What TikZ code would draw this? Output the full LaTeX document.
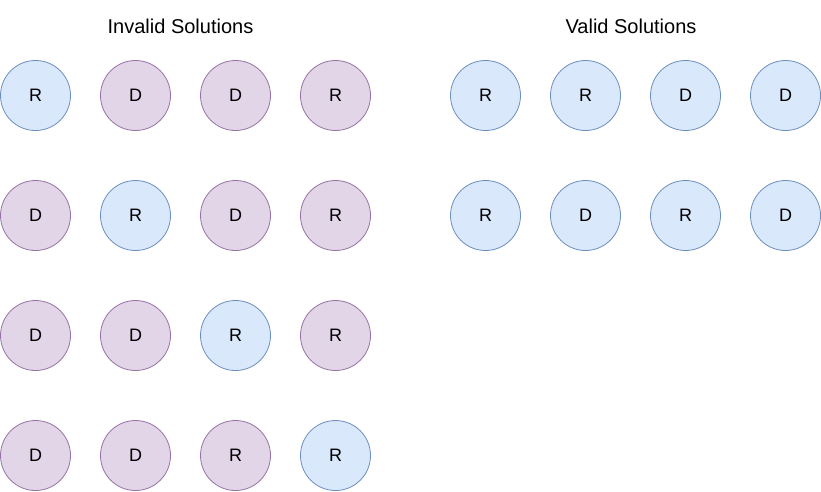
\documentclass[tikz,border=0pt]{standalone}
\usepackage{fontspec}
\setmainfont{Liberation Sans}
\definecolor{bfill}{HTML}{DAE8FC}
\definecolor{bdraw}{HTML}{6C8EBF}
\definecolor{pfill}{HTML}{E1D5E7}
\definecolor{pdraw}{HTML}{9673A6}
\tikzset{
  ball/.style={circle, minimum size=70pt, inner sep=0pt, line width=0.8pt, font=\fontsize{18}{20}\selectfont},
  rb/.style={ball, fill=bfill, draw=bdraw},
  db/.style={ball, fill=pfill, draw=pdraw},
  title/.style={font=\fontsize{20}{24}\selectfont}
}
\begin{document}
\begin{tikzpicture}[x=1pt,y=-1pt]
\useasboundingbox (0,0) rectangle (821,491);
\node[title] (t1) at (180.5,26) {Invalid Solutions};
\node[title] (t2) at (631,26) {Valid Solutions};
% invalid row 1
\node[rb] (a11) at (35.5,95.5) {R};
\node[db] (a12) at (135.5,95.5) {D};
\node[db] (a13) at (235.5,95.5) {D};
\node[db] (a14) at (335.5,95.5) {R};
% row 2
\node[db] (a21) at (35.5,215.5) {D};
\node[rb] (a22) at (135.5,215.5) {R};
\node[db] (a23) at (235.5,215.5) {D};
\node[db] (a24) at (335.5,215.5) {R};
% row 3
\node[db] (a31) at (35.5,335.5) {D};
\node[db] (a32) at (135.5,335.5) {D};
\node[rb] (a33) at (235.5,335.5) {R};
\node[db] (a34) at (335.5,335.5) {R};
% row 4
\node[db] (a41) at (35.5,455.5) {D};
\node[db] (a42) at (135.5,455.5) {D};
\node[db] (a43) at (235.5,455.5) {R};
\node[rb] (a44) at (335.5,455.5) {R};
% valid
\node[rb] (v11) at (485.5,95.5) {R};
\node[rb] (v12) at (585.5,95.5) {R};
\node[rb] (v13) at (685.5,95.5) {D};
\node[rb] (v14) at (785.5,95.5) {D};
\node[rb] (v21) at (485.5,215.5) {R};
\node[rb] (v22) at (585.5,215.5) {D};
\node[rb] (v23) at (685.5,215.5) {R};
\node[rb] (v24) at (785.5,215.5) {D};
\end{tikzpicture}
\end{document}
